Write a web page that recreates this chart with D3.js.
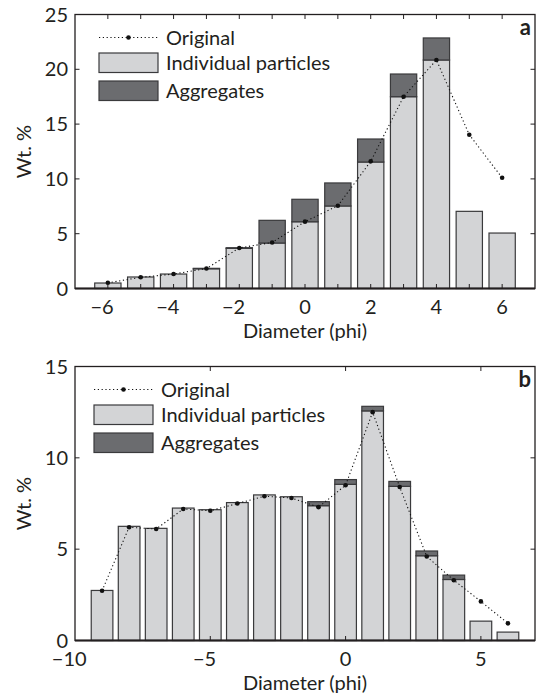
<!DOCTYPE html>
<html><head><meta charset="utf-8">
<script src="https://cdn.jsdelivr.net/npm/d3@7"></script>
<style>
html,body{margin:0;padding:0;background:#fff;}
text{font-family:Lato, "Open Sans", sans-serif;fill:#231f20;}
</style></head>
<body><svg id="c" width="538" height="696"></svg>
<script>
// ---- Panel a data ----
const diamA = [-6,-5,-4,-3,-2,-1,0,1,2,3,4,5,6];
const indivA = [0.50,1.05,1.32,1.80,3.66,4.15,6.09,7.53,11.54,17.50,20.85,7.04,5.06];
const aggA   = [0,0,0,0.04,0.06,2.07,2.05,2.10,2.10,2.07,2.01,0,0];
const origA  = [0.52,1.02,1.32,1.82,3.70,4.20,6.10,7.55,11.60,17.50,20.85,14.03,10.10];
const xTicksA = [-6,-4,-2,0,2,4,6];
const xMinorA = [-6,-5,-4,-3,-2,-1,0,1,2,3,4,5,6];
const yTicksA = [0,5,10,15,20,25];
// ---- Panel b data ----
const diamB = [-9,-8,-7,-6,-5,-4,-3,-2,-1,0,1,2,3,4,5,6];
const indivB = [2.74,6.25,6.14,7.25,7.16,7.55,7.97,7.87,7.38,8.55,12.57,8.44,4.64,3.34,1.06,0.46];
const aggB   = [0,0,0,0,0,0,0,0,0.22,0.26,0.25,0.27,0.26,0.24,0,0];
const origB  = [2.72,6.20,6.10,7.20,7.10,7.50,7.90,7.80,7.30,8.50,12.50,8.40,4.60,3.30,2.14,0.94];
const xTicksB = [-10,-5,0,5];
const xMinorB = [-10,-5,0,5];
const yTicksB = [0,5,10,15];
const legendLabels = ["Original","Individual particles","Aggregates"];

const svg = d3.select("#c");
const FS = 20;
const LIGHT = "#d3d4d6", DARK = "#6b6c6f", EDGE = "#3a3a3c";

function panel(o){
  const g = svg.append("g");
  const x = d3.scaleLinear().domain(o.xdom).range([75,535]);
  const y = d3.scaleLinear().domain(o.ydom).range([o.bottom,o.top]);
  const bw = x(0.8)-x(0);
  const rows = o.diam.map((d,i)=>({d, a:o.indiv[i], b:o.agg[i], c:o.orig[i]}));
  // bars
  g.selectAll("rect.ind").data(rows).enter().append("rect")
    .attr("x",r=>x(r.d)-bw/2).attr("width",bw)
    .attr("y",r=>y(r.a)).attr("height",r=>y(0)-y(r.a))
    .attr("fill",LIGHT).attr("stroke",EDGE).attr("stroke-width",1.2);
  g.selectAll("rect.agg").data(rows.filter(r=>r.b>0)).enter().append("rect")
    .attr("x",r=>x(r.d)-bw/2).attr("width",bw)
    .attr("y",r=>y(r.a+r.b)).attr("height",r=>y(r.a)-y(r.a+r.b))
    .attr("fill",DARK).attr("stroke",EDGE).attr("stroke-width",1.2);
  // original line
  g.append("path").datum(rows)
    .attr("d",d3.line().x(r=>x(r.d)).y(r=>y(r.c)))
    .attr("fill","none").attr("stroke","#111").attr("stroke-width",1.1)
    .attr("stroke-dasharray","1.2,2.6");
  g.selectAll("circle").data(rows).enter().append("circle")
    .attr("cx",r=>x(r.d)).attr("cy",r=>y(r.c)).attr("r",2.3).attr("fill","#111");
  // frame
  const [x0,x1]=x.range();
  g.append("rect").attr("x",x0).attr("y",o.top).attr("width",x1-x0).attr("height",o.bottom-o.top)
    .attr("fill","none").attr("stroke","#231f20").attr("stroke-width",1.3);
  g.append("line").attr("x1",x0).attr("x2",x1).attr("y1",o.bottom).attr("y2",o.bottom)
    .attr("stroke","#231f20").attr("stroke-width",2);
  // inward ticks
  const TL=4.5;
  o.xMinor.forEach(t=>{
    if (Math.abs(x(t)-x0)<1) return;
    g.append("line").attr("x1",x(t)).attr("x2",x(t)).attr("y1",o.top).attr("y2",o.top+TL).attr("stroke","#231f20").attr("stroke-width",1);
    g.append("line").attr("x1",x(t)).attr("x2",x(t)).attr("y1",o.bottom).attr("y2",o.bottom-TL).attr("stroke","#231f20").attr("stroke-width",1);
  });
  o.yTicks.forEach(t=>{
    if (t===o.ydom[0]||t===o.ydom[1]) return;
    g.append("line").attr("x1",x0).attr("x2",x0+TL).attr("y1",y(t)).attr("y2",y(t)).attr("stroke","#231f20").attr("stroke-width",1);
    g.append("line").attr("x1",x1).attr("x2",x1-TL).attr("y1",y(t)).attr("y2",y(t)).attr("stroke","#231f20").attr("stroke-width",1);
  });
  // tick labels x: digits centred on tick, minus hangs left
  o.xTicks.forEach(t=>{
    const digits = String(Math.abs(t));
    const tmp = g.append("text").attr("font-size",FS).text(digits);
    const w = tmp.node().getComputedTextLength(); tmp.remove();
    g.append("text").attr("x",x(t)+w/2).attr("y",o.bottom+25.5).attr("font-size",FS)
      .attr("text-anchor","end").text(t<0?"\u2212"+digits:digits);
  });
  o.yTicks.forEach(t=>{
    g.append("text").attr("x",x0-7).attr("y",y(t)).attr("dy","0.35em").attr("font-size",FS)
      .attr("text-anchor","end").text(t);
  });
  // axis titles
  g.append("text").attr("x",(x0+x1)/2).attr("y",o.bottom+49).attr("font-size",FS)
    .attr("text-anchor","middle").text("Diameter (phi)");
  g.append("text").attr("transform",`translate(31,${(o.top+o.bottom)/2}) rotate(-90)`)
    .attr("font-size",FS).attr("text-anchor","middle").text("Wt. %");
  // panel letter
  g.append("text").attr("x",531).attr("y",o.top+20).attr("font-size",FS+2).attr("font-weight","bold")
    .attr("text-anchor","end").text(o.letter);
  // legend
  const lx=o.lx, ly=o.top;
  g.append("line").attr("x1",lx).attr("x2",lx+59).attr("y1",ly+23).attr("y2",ly+23)
    .attr("stroke","#111").attr("stroke-width",1.1).attr("stroke-dasharray","1.2,2.6");
  g.append("circle").attr("cx",lx+29.5).attr("cy",ly+23).attr("r",2.3).attr("fill","#111");
  g.append("rect").attr("x",lx).attr("y",ly+38.5).attr("width",59).attr("height",19.5)
    .attr("fill",LIGHT).attr("stroke",EDGE).attr("stroke-width",1.2);
  g.append("rect").attr("x",lx).attr("y",ly+66.5).attr("width",59).attr("height",19.5)
    .attr("fill",DARK).attr("stroke",EDGE).attr("stroke-width",1.2);
  [23,48,76].forEach((dy,i)=>{
    g.append("text").attr("x",lx+67).attr("y",ly+dy).attr("dy","0.35em").attr("font-size",FS)
      .text(legendLabels[i]);
  });
}

panel({diam:diamA, indiv:indivA, agg:aggA, orig:origA, xdom:[-7,7], ydom:[0,25],
  top:14.5, bottom:288.5, xTicks:xTicksA, xMinor:xMinorA, yTicks:yTicksA, letter:"a", lx:99});
panel({diam:diamB, indiv:indivB, agg:aggB, orig:origB, xdom:[-10,7], ydom:[0,15],
  top:366.5, bottom:640.5, xTicks:xTicksB, xMinor:xMinorB, yTicks:yTicksB, letter:"b", lx:94});
</script></body></html>
